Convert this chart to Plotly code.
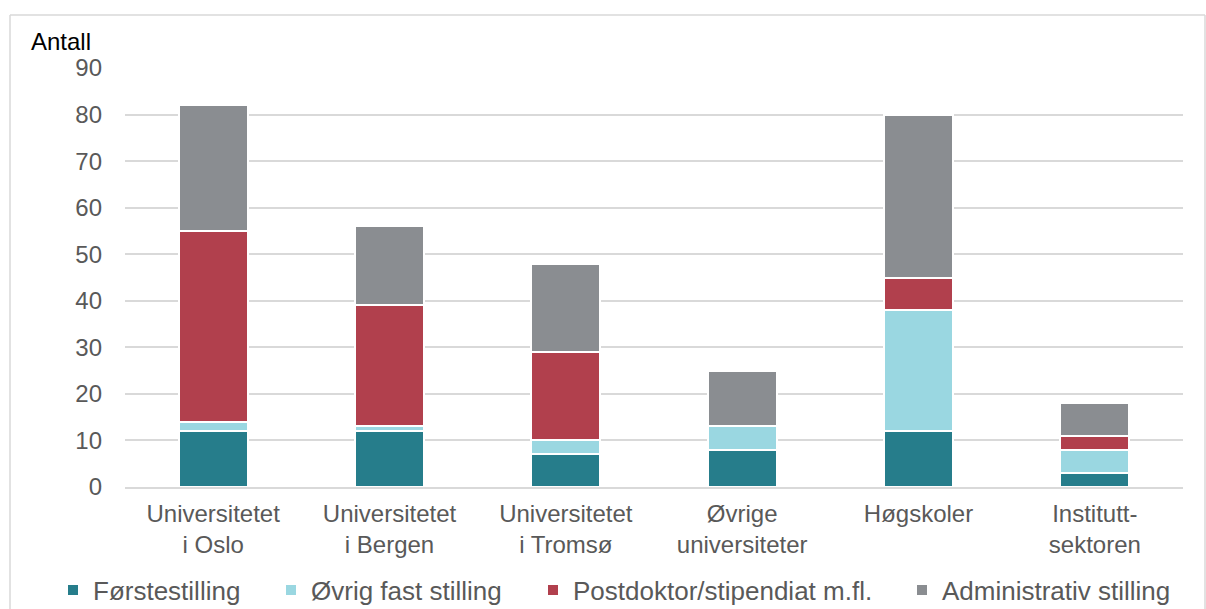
import plotly.graph_objects as go

categories = ["Universitetet<br>i Oslo", "Universitetet<br>i Bergen", "Universitetet<br>i Tromsø",
              "Øvrige<br>universiteter", "Høgskoler", "Institutt-<br>sektoren"]
forstestilling = [12, 12, 7, 8, 12, 3]
ovrig_fast = [2, 1, 3, 5, 26, 5]
postdoktor = [41, 26, 19, 0, 7, 3]
administrativ = [27, 17, 19, 12, 35, 7]

series_names = ["Førstestilling", "Øvrig fast stilling", "Postdoktor/stipendiat m.fl.", "Administrativ stilling"]
series_values = [forstestilling, ovrig_fast, postdoktor, administrativ]
series_colors = ["#267D8B", "#9AD7E1", "#B1404D", "#8A8D91"]

font = "Liberation Sans, Arial, sans-serif"
L, R, T, B = 125, 1183, 68, 487
W, H = R - L, B - T

# legend symbol centres (pixels) in the reference
legend_px = [77, 295, 557, 926]

fig = go.Figure()
legend_layout = {}
for i, (name, vals, color) in enumerate(zip(series_names, series_values, series_colors)):
    key = "legend" if i == 0 else f"legend{i + 1}"
    fig.add_trace(go.Bar(x=categories, y=vals, name=name, legend=key,
                         marker=dict(color=color, line=dict(color="white", width=2))))
    legend_layout[key] = dict(orientation="h", x=(legend_px[i] - 24 - L) / W, xanchor="left",
                              y=(B - 590) / H, yanchor="middle",
                              font=dict(size=26, color="#595959", family=font),
                              itemwidth=30, bgcolor="rgba(0,0,0,0)")

fig.update_layout(
    barmode="stack",
    bargap=0.61,
    width=1206, height=609,
    margin=dict(l=L, r=1206 - R, t=T, b=609 - B, autoexpand=False),
    plot_bgcolor="white", paper_bgcolor="white",
    font=dict(family=font, size=24, color="#595959"),
    showlegend=True,
    xaxis=dict(showgrid=False, showline=True, linecolor="#d9d9d9", linewidth=1.5,
               tickfont=dict(size=24, color="#595959"), ticklabelstandoff=4),
    yaxis=dict(range=[0, 90], dtick=10, showgrid=True, gridcolor="#d9d9d9", gridwidth=1.5,
               zeroline=False, tickfont=dict(size=24, color="#595959"),
               ticklabelstandoff=22),
    annotations=[dict(text="Antall", xref="paper", yref="paper", x=(29 - L) / W, y=(B - 41) / H,
                      xanchor="left", yanchor="middle", showarrow=False,
                      font=dict(size=24, color="black", family=font))],
    shapes=[
        dict(type="line", xref="paper", yref="paper", x0=(10 - L) / W, x1=(10 - L) / W,
             y0=(B - 15) / H, y1=(B - 620) / H, line=dict(color="#d9d9d9", width=1.5)),
        dict(type="line", xref="paper", yref="paper", x0=(10 - L) / W, x1=(1205 - L) / W,
             y0=(B - 15) / H, y1=(B - 15) / H, line=dict(color="#d9d9d9", width=1.5)),
        dict(type="line", xref="paper", yref="paper", x0=(1205 - L) / W, x1=(1205 - L) / W,
             y0=(B - 15) / H, y1=(B - 620) / H, line=dict(color="#d9d9d9", width=1.5)),
    ],
    **legend_layout,
)

fig.write_html("out.html", config={"displayModeBar": False},
               post_script="document.body.style.margin='0';document.body.style.overflow='hidden';")
